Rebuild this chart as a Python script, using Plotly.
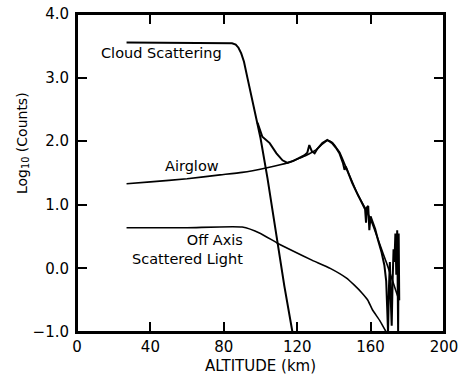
import plotly.graph_objects as go

# Cloud scattering model
cloud_x = [27, 60, 82, 84.5, 86.5, 88, 89.5, 91, 93, 95, 97.8, 100, 103.8, 109, 113, 117.4]
cloud_y = [3.55, 3.55, 3.55, 3.54, 3.52, 3.47, 3.38, 3.25, 2.98, 2.72, 2.38, 2.05, 1.42, 0.46,
           -0.28, -1.0]

# Airglow model
air_x = [27, 40, 60, 78, 90, 103, 115, 121, 125, 130, 134, 136.5, 139, 143, 147, 150,
         153, 157, 161, 164.5, 167, 169.5, 172, 175.5]
air_y = [1.33, 1.36, 1.41, 1.47, 1.51, 1.58, 1.66, 1.73, 1.78, 1.86, 1.96, 2.01, 1.98,
         1.83, 1.56, 1.36, 1.16, 0.95, 0.70, 0.42, 0.22, 0.02, -0.2, -0.5]

# Off axis scattered light model
off_x = [27, 60, 90, 100, 109, 118, 128, 138, 146.7, 151, 155.4, 158.5, 161, 165, 168.5]
off_y = [0.64, 0.64, 0.65, 0.55, 0.40, 0.27, 0.13, 0.0, -0.15, -0.26, -0.39, -0.50, -0.65,
         -0.82, -1.0]

# Measured counts (after departing from the cloud scattering curve)
meas_x = [98.4, 101, 105, 108.7, 112, 114.7, 118, 121, 124, 125.5, 126.6, 128, 129.5, 131,
          133.7, 136.4, 139, 141, 143, 145, 145.8, 146.5, 147.5, 150, 152, 153.8, 155.5,
          157, 157.5, 158, 158.7, 159.3, 160, 161, 162.5, 164, 166, 167.5, 168.5, 169,
          169.5, 170, 170.5, 171, 171.5, 172, 172.5, 173, 173.5, 174, 174.5, 175, 175.3,
          175.6]
meas_y = [2.29, 2.07, 1.97, 1.81, 1.70, 1.66, 1.69, 1.74, 1.78, 1.82, 1.94, 1.84, 1.81, 1.88,
          1.97, 2.02, 1.97, 1.90, 1.81, 1.65, 1.55, 1.60, 1.52, 1.34, 1.22, 1.12, 1.0,
          0.93, 0.72, 0.96, 0.98, 0.60, 0.82, 0.75, 0.62, 0.45, 0.25, 0.05, -0.2, -0.6,
          -1.0, -0.3, 0.1, -0.5, -0.9, -0.2, 0.3, 0.1, 0.55, -0.1, 0.6, -1.0, 0.55, -0.5]

x_ticks = [0, 40, 80, 120, 160, 200]
y_ticks = [-1, 0, 1, 2, 3, 4]
y_labels = ["\u22121.0", "0.0", "1.0", "2.0", "3.0", "4.0"]

font = dict(family="DejaVu Sans, Verdana, sans-serif", color="black")

fig = go.Figure()
fig.add_trace(go.Scatter(x=cloud_x, y=cloud_y, mode="lines",
                         line=dict(color="black", width=2)))
fig.add_trace(go.Scatter(x=air_x, y=air_y, mode="lines",
                         line=dict(color="black", width=1.6, shape="spline", smoothing=0.5)))
fig.add_trace(go.Scatter(x=off_x, y=off_y, mode="lines",
                         line=dict(color="black", width=1.6, shape="spline", smoothing=0.5)))
fig.add_trace(go.Scatter(x=meas_x, y=meas_y, mode="lines",
                         line=dict(color="black", width=2)))

annos = [
    dict(x=46, y=3.39, text="Cloud Scattering", xanchor="center"),
    dict(x=62.5, y=1.61, text="Airglow", xanchor="center"),
    dict(x=91.5, y=0.29, text="Off Axis<br>Scattered Light", xanchor="right", align="right"),
]
for a in annos:
    fig.add_annotation(x=a["x"], y=a["y"], text=a["text"], xanchor=a["xanchor"],
                       align=a.get("align", "center"), showarrow=False,
                       font=dict(size=14.5, **font))

# y-axis title (placed above the plot centre, as in the original)
fig.add_annotation(xref="paper", yref="paper", x=-0.149, y=0.595,
                   text="Log<sub>10</sub> (Counts)", textangle=-90, showarrow=False,
                   xanchor="center", yanchor="middle", font=dict(size=14, **font))

axis_common = dict(showline=True, linecolor="black", linewidth=2, mirror="allticks",
                   ticks="inside", ticklen=10, tickwidth=1.5, tickcolor="black",
                   automargin=False, ticklabeloverflow="allow",
                   showgrid=False, zeroline=False, tickfont=dict(size=15, **font))

fig.update_xaxes(range=[0, 200], tickvals=x_ticks, ticktext=[str(v) for v in x_ticks],
                 ticklabelstandoff=0,
                 title=dict(text="ALTITUDE (km)", font=dict(size=15, **font), standoff=5),
                 **axis_common)
fig.update_yaxes(range=[-1, 4], tickvals=y_ticks, ticktext=y_labels,
                 ticklabelstandoff=3,
                 **axis_common)

fig.add_shape(type="rect", xref="paper", yref="paper", x0=0, x1=1, y0=0, y1=1,
              line=dict(color="black", width=2), layer="above")

fig.update_layout(width=460, height=377, showlegend=False,
                  margin=dict(l=77, r=16, t=14, b=45),
                  plot_bgcolor="white", paper_bgcolor="white")

fig.write_html("out.html", config={"displayModeBar": False},
               post_script="document.body.style.margin='0';document.body.style.overflow='hidden';")
